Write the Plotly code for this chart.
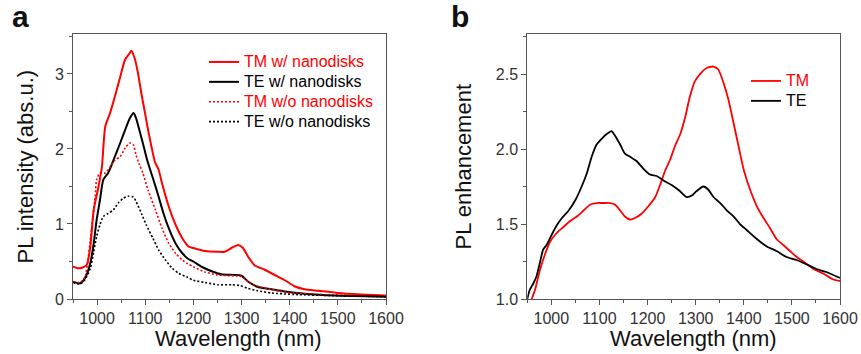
import plotly.graph_objects as go

# ---------------- Panel a: PL intensity ----------------
a_tm_w_x = [950, 960, 970, 979, 986, 993, 1003, 1010, 1017, 1027, 1037, 1048, 1058, 1068, 1071, 1078,
            1085, 1092, 1099, 1106, 1113, 1120, 1128, 1135, 1149, 1163, 1177, 1190, 1200, 1224, 1251,
            1265, 1279, 1293, 1303, 1314, 1327, 1348, 1369, 1390, 1410, 1431, 1459, 1500, 1548, 1600]
a_tm_w_y = [0.43, 0.41, 0.42, 0.46, 0.70, 1.19, 1.50, 1.76, 2.30, 2.48, 2.70, 2.96, 3.19, 3.28, 3.31, 3.21,
            3.01, 2.74, 2.50, 2.25, 2.03, 1.83, 1.72, 1.54, 1.23, 0.99, 0.81, 0.70, 0.68, 0.64, 0.63,
            0.63, 0.68, 0.72, 0.68, 0.56, 0.45, 0.39, 0.32, 0.25, 0.17, 0.13, 0.11, 0.08, 0.06, 0.045]

a_te_w_x = [950, 965, 975, 986, 993, 999, 1006, 1013, 1023, 1034, 1037, 1048, 1058, 1068, 1076, 1081,
            1088, 1095, 1102, 1106, 1117, 1128, 1138, 1149, 1163, 1177, 1188, 1200, 1217, 1238, 1258,
            1286, 1300, 1314, 1334, 1362, 1390, 1431, 1493, 1600]
a_te_w_y = [0.23, 0.21, 0.28, 0.48, 0.74, 1.05, 1.32, 1.59, 1.68, 1.85, 1.90, 2.08, 2.25, 2.41, 2.48, 2.41,
            2.25, 2.08, 1.90, 1.81, 1.59, 1.36, 1.14, 0.94, 0.74, 0.61, 0.54, 0.50, 0.43, 0.37, 0.33,
            0.32, 0.31, 0.23, 0.16, 0.13, 0.10, 0.07, 0.045, 0.03]

a_tm_wo_x = [950, 965, 975, 989, 996, 999, 1006, 1017, 1027, 1037, 1048, 1058, 1068, 1075, 1081, 1088,
             1095, 1106, 1121, 1135, 1149, 1163, 1177, 1188, 1200, 1224, 1251, 1279, 1300, 1314, 1334,
             1362, 1390, 1459, 1600]
a_tm_wo_y = [0.23, 0.22, 0.30, 0.96, 1.36, 1.59, 1.68, 1.68, 1.76, 1.85, 1.90, 2.01, 2.08, 2.06, 1.92, 1.79,
             1.68, 1.45, 1.19, 0.94, 0.74, 0.61, 0.52, 0.47, 0.43, 0.36, 0.32, 0.31, 0.30, 0.23, 0.17,
             0.13, 0.09, 0.06, 0.035]

a_te_wo_x = [950, 965, 975, 986, 993, 999, 1006, 1013, 1023, 1034, 1044, 1054, 1064, 1075, 1081, 1092,
             1102, 1116, 1128, 1142, 1156, 1170, 1188, 1200, 1224, 1251, 1279, 1296, 1314, 1334, 1362,
             1410, 1493, 1600]
a_te_wo_y = [0.22, 0.20, 0.26, 0.41, 0.63, 0.83, 0.99, 1.10, 1.14, 1.19, 1.28, 1.34, 1.37, 1.36, 1.30, 1.14,
             0.99, 0.81, 0.65, 0.52, 0.41, 0.34, 0.29, 0.25, 0.22, 0.19, 0.19, 0.18, 0.14, 0.11, 0.08,
             0.06, 0.045, 0.03]

# ---------------- Panel b: PL enhancement ----------------
b_te_x = [950, 955, 962, 969, 976, 983, 990, 1001, 1011, 1022, 1036, 1050, 1063, 1074, 1084, 1094, 1105,
          1115, 1125, 1132, 1143, 1153, 1163, 1177, 1191, 1205, 1219, 1233, 1250, 1267, 1281, 1292, 1302,
          1316, 1326, 1337, 1351, 1365, 1379, 1392, 1406, 1427, 1448, 1468, 1489, 1510, 1531, 1551, 1572, 1600]
b_te_y = [1.00, 1.06, 1.10, 1.15, 1.24, 1.33, 1.36, 1.43, 1.49, 1.54, 1.59, 1.66, 1.75, 1.84, 1.95, 2.03, 2.07,
          2.10, 2.12, 2.09, 2.03, 1.97, 1.95, 1.92, 1.87, 1.83, 1.82, 1.79, 1.76, 1.72, 1.68, 1.69, 1.72,
          1.75, 1.73, 1.68, 1.64, 1.59, 1.55, 1.50, 1.46, 1.40, 1.35, 1.32, 1.28, 1.26, 1.23, 1.20, 1.18, 1.14]

b_tm_x = [959, 966, 976, 987, 997, 1011, 1025, 1039, 1053, 1067, 1081, 1094, 1108, 1122, 1132, 1143, 1153,
          1163, 1174, 1188, 1202, 1216, 1226, 1237, 1247, 1257, 1268, 1278, 1288, 1298, 1309, 1323, 1337,
          1347, 1358, 1368, 1379, 1389, 1400, 1413, 1427, 1441, 1455, 1468, 1482, 1496, 1510, 1524, 1545,
          1565, 1586, 1600]
b_tm_y = [1.00, 1.06, 1.19, 1.30, 1.38, 1.44, 1.48, 1.52, 1.55, 1.59, 1.63, 1.64, 1.64, 1.64, 1.63, 1.59, 1.55,
          1.53, 1.54, 1.57, 1.62, 1.68, 1.76, 1.86, 1.93, 2.02, 2.10, 2.21, 2.35, 2.45, 2.50, 2.54, 2.55,
          2.53, 2.44, 2.33, 2.17, 2.02, 1.86, 1.73, 1.62, 1.54, 1.47, 1.40, 1.36, 1.32, 1.28, 1.25, 1.20,
          1.17, 1.13, 1.12]

W, H = 861, 354
def px(x):
    return x / W
def py(y):
    return (H - y) / H

FONT = "Liberation Sans, Arial, sans-serif"
RED = "#ff0000"
BLK = "#000000"

fig = go.Figure()

def add(x, y, name, color, dash, xa, ya, legend, width=2):
    fig.add_trace(go.Scatter(
        x=x, y=y, mode="lines", xaxis=xa, yaxis=ya, legend=legend,
        name=f"<span style='color:{color};font-size:16px'>{name}</span>",
        line=dict(color=color, width=width, dash=dash, shape="spline", smoothing=0.6),
        hoverinfo="skip"))

add(a_tm_w_x, a_tm_w_y, "TM w/ nanodisks", RED, "solid", "x", "y", "legend", 2)
add(a_te_w_x, a_te_w_y, "TE w/ nanodisks", BLK, "solid", "x", "y", "legend", 2)
add(a_tm_wo_x, a_tm_wo_y, "TM w/o nanodisks", RED, "2px,2px", "x", "y", "legend", 1.6)
add(a_te_wo_x, a_te_wo_y, "TE w/o nanodisks", BLK, "2px,2px", "x", "y", "legend", 1.6)
add(b_tm_x, b_tm_y, "TM", RED, "solid", "x2", "y2", "legend2", 1.8)
add(b_te_x, b_te_y, "TE", BLK, "solid", "x2", "y2", "legend2", 1.8)

axis_common = dict(
    showline=True, linecolor="#555", linewidth=1, mirror=True,
    ticks="outside", ticklen=5, tickwidth=1, tickcolor="#555",
    showgrid=False, zeroline=False, automargin=False,
    tickfont=dict(family=FONT, size=16, color="#333"),
)
minor_common = dict(ticks="outside", ticklen=3, tickwidth=1, tickcolor="#555", showgrid=False)

top, bottom = 34, 299
fig.update_layout(
    template="none",
    width=W, height=H, autosize=False,
    margin=dict(l=0, r=0, t=0, b=0, pad=0, autoexpand=False),
    paper_bgcolor="white", plot_bgcolor="white",
    showlegend=True,
    font=dict(family=FONT, color="#222"),
    xaxis=dict(domain=[px(73), px(386)], range=[950, 1600], tick0=1000, dtick=100,
               minor=dict(dtick=50, **minor_common), anchor="y", **axis_common),
    yaxis=dict(domain=[py(bottom), py(top)], range=[0, 3.533], tick0=0, dtick=1,
               minor=dict(dtick=0.5, **minor_common), anchor="x", **axis_common),
    xaxis2=dict(domain=[px(527.3), px(840)], range=[950, 1600], tick0=1000, dtick=100,
                minor=dict(dtick=50, **minor_common), anchor="y2", **axis_common),
    yaxis2=dict(domain=[py(bottom), py(top)], range=[1.0, 2.767], tick0=1.0, dtick=0.5,
                tickformat=".1f", minor=dict(dtick=0.25, **minor_common), anchor="x2", **axis_common),
    legend=dict(x=px(204), y=py(47), xanchor="left", yanchor="top",
                bgcolor="rgba(0,0,0,0)", borderwidth=0,
                font=dict(family=FONT, size=13), tracegroupgap=0, itemwidth=30),
    legend2=dict(x=px(746), y=py(66), xanchor="left", yanchor="top",
                 bgcolor="rgba(0,0,0,0)", borderwidth=0,
                 font=dict(family=FONT, size=13), tracegroupgap=0, itemwidth=30),
)

ann = [
    dict(text="<b>a</b>", x=px(20), y=py(16), size=30),
    dict(text="<b>b</b>", x=px(460), y=py(16), size=30),
    dict(text="Wavelength (nm)", x=px(238), y=py(338), size=22),
    dict(text="Wavelength (nm)", x=px(693), y=py(338), size=22),
]
for a in ann:
    fig.add_annotation(text=a["text"], x=a["x"], y=a["y"], xref="paper", yref="paper",
                       xanchor="center", yanchor="middle", showarrow=False,
                       font=dict(family=FONT, size=a["size"], color="#111"))
fig.add_annotation(text="PL intensity (abs.u.)", x=px(25), y=py(166.5), xref="paper", yref="paper",
                   textangle=-90, showarrow=False, xanchor="center", yanchor="middle",
                   font=dict(family=FONT, size=22, color="#111"))
fig.add_annotation(text="PL enhancement", x=px(463), y=py(166.5), xref="paper", yref="paper",
                   textangle=-90, showarrow=False, xanchor="center", yanchor="middle",
                   font=dict(family=FONT, size=22, color="#111"))

fig.write_html("out.html")
